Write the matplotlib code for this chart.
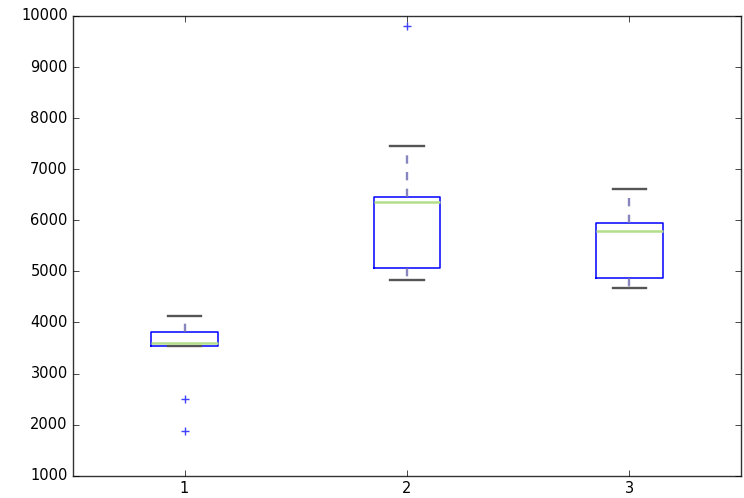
import matplotlib
matplotlib.use("Agg")
import matplotlib.pyplot as plt

plt.style.use("classic")

positions = [1, 2, 3]
q1 = [3545, 5067, 4872]
medians = [3602, 6350, 5783]
q3 = [3811, 6453, 5953]
whislo = [3535, 4840, 4684]
whishi = [4124, 7462, 6603]
fliers = [[2503, 1879], [9805], []]
labels = ["1", "2", "3"]

stats = []
for i in range(len(positions)):
    stats.append(dict(q1=q1[i], med=medians[i], q3=q3[i], whislo=whislo[i],
                      whishi=whishi[i], fliers=fliers[i], label=labels[i]))

fig = plt.figure(figsize=(7.44, 4.98), dpi=100)
fig.patch.set_facecolor("white")
ax = fig.add_axes([0.0985, 0.0448, 0.8971, 0.9231])

ax.bxp(stats, positions=positions, widths=0.3,
       boxprops=dict(color="#0000ff", linewidth=1.1),
       whiskerprops=dict(color="#7570b3", linewidth=1.7, linestyle="--", alpha=0.85),
       capprops=dict(color="#555555", linewidth=1.7),
       medianprops=dict(color="#b2df8a", linewidth=1.8),
       flierprops=dict(marker="+", markeredgecolor="#0000ff", markerfacecolor="#0000ff",
                       color="#0000ff", markersize=6, markeredgewidth=1.0,
                       linestyle="none", alpha=0.75))

ax.set_xlim(0.5, 3.5)
ax.set_ylim(1000, 10000)
ax.set_yticks(range(1000, 10001, 1000))
ax.tick_params(labelsize=10.5)
ax.xaxis.set_ticks_position("both")
ax.yaxis.set_ticks_position("both")
for s in ax.spines.values():
    s.set_color("#333333")

fig.savefig("out.png", dpi=100, facecolor="white")
